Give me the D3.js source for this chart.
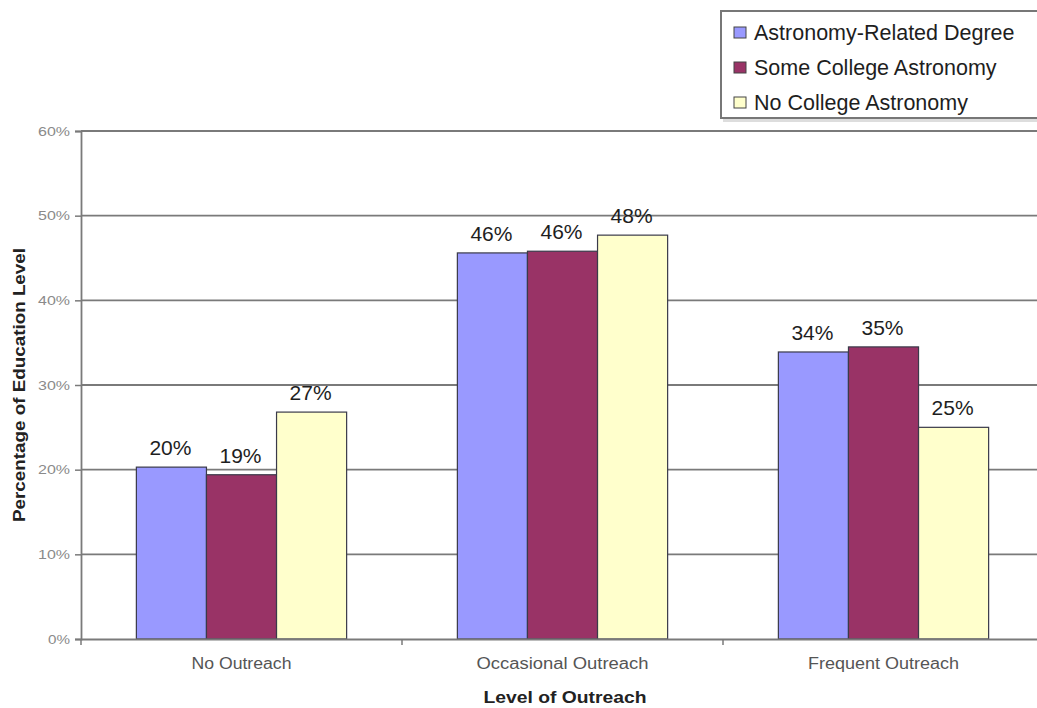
<!DOCTYPE html>
<html>
<head>
<meta charset="utf-8">
<script src="https://cdn.jsdelivr.net/npm/d3@7"></script>
<style>
  body { margin: 0; background: #fff; }
  svg { display: block; font-family: "Liberation Sans", Arial, sans-serif; }
</style>
</head>
<body>
<div id="chart"></div>
<script>
// data
const categories = ["No Outreach", "Occasional Outreach", "Frequent Outreach"];
const categoryLabelWidths = [100, 172, 151];
const seriesNames = ["Astronomy-Related Degree", "Some College Astronomy", "No College Astronomy"];
const seriesColors = ["#9999ff", "#993366", "#ffffcc"];
const astronomyDegree = [20.3, 45.6, 33.9];
const someCollege = [19.4, 45.8, 34.5];
const noCollege = [26.8, 47.7, 25.0];
const valueLabels = [["20%", "46%", "34%"], ["19%", "46%", "35%"], ["27%", "48%", "25%"]];
const yTicks = [0, 10, 20, 30, 40, 50, 60];

const series = [astronomyDegree, someCollege, noCollege];

const width = 1037, height = 708;
const margin = { left: 81, right: -7, top: 131, bottom: 69 };

const svg = d3.select("#chart").append("svg")
    .attr("width", width)
    .attr("height", height);

const x = d3.scaleBand()
    .domain(categories)
    .range([margin.left, width - margin.right])
    .paddingInner(0)
    .paddingOuter(0);

// inner scale: bars ~70px wide inside a ~321px band
const x1 = d3.scaleBand()
    .domain(d3.range(series.length))
    .range([0, x.bandwidth()])
    .paddingOuter(0.79)
    .paddingInner(0);

const y = d3.scaleLinear()
    .domain([0, 60])
    .range([height - margin.bottom, margin.top]);

// gridlines
svg.append("g")
    .selectAll("line")
    .data(yTicks.filter(t => t > 0))
    .join("line")
    .attr("x1", margin.left)
    .attr("x2", width)
    .attr("y1", d => y(d))
    .attr("y2", d => y(d))
    .attr("stroke", "#7a7a7a")
    .attr("stroke-width", 1.8);

// bars
const groups = svg.append("g")
    .selectAll("g")
    .data(series)
    .join("g")
    .attr("fill", (d, i) => seriesColors[i]);

groups.selectAll("rect")
    .data((d, i) => d.map((v, j) => ({ v, j, i })))
    .join("rect")
    .attr("x", d => x(categories[d.j]) + x1(d.i))
    .attr("y", d => y(d.v))
    .attr("width", x1.bandwidth())
    .attr("height", d => y(0) - y(d.v))
    .attr("stroke", "#3a3a4a")
    .attr("stroke-width", 1.2);

groups.selectAll("text")
    .data((d, i) => d.map((v, j) => ({ v, j, i })))
    .join("text")
    .attr("x", d => x(categories[d.j]) + x1(d.i) + x1.bandwidth() / 2 - 1)
    .attr("y", d => y(d.v) - 12)
    .attr("text-anchor", "middle")
    .attr("fill", "#1e1e1e")
    .attr("font-size", 21)
    .text(d => valueLabels[d.i][d.j]);

// y axis
const yAxis = svg.append("g")
    .attr("transform", `translate(${margin.left},0)`)
    .call(d3.axisLeft(y).tickValues(yTicks).tickSize(6).tickFormat(d => d + "%"));
yAxis.select(".domain").attr("stroke", "#7a7a7a").attr("stroke-width", 1.8);
yAxis.selectAll(".tick line").attr("stroke", "#7a7a7a").attr("stroke-width", 1.5);
yAxis.selectAll(".tick text")
    .attr("fill", "#8a8a8a")
    .attr("font-size", 13)
    .attr("font-family", "Liberation Sans, Arial, sans-serif")
    .attr("x", -11)
    .attr("textLength", d => d === 0 ? 22 : 32)
    .attr("lengthAdjust", "spacingAndGlyphs");

// x axis
const xAxis = svg.append("g")
    .attr("transform", `translate(0,${y(0)})`)
    .call(d3.axisBottom(x).tickSize(0).tickPadding(20));
xAxis.select(".domain").attr("stroke", "#7a7a7a").attr("stroke-width", 1.8);
xAxis.selectAll(".tick text")
    .attr("fill", "#555")
    .attr("font-size", 16)
    .attr("dy", "0.6em")
    .attr("font-family", "Liberation Sans, Arial, sans-serif")
    .attr("textLength", (d, i) => categoryLabelWidths[i])
    .attr("lengthAdjust", "spacingAndGlyphs");

// category separator ticks
svg.append("g")
    .selectAll("line")
    .data(categories)
    .join("line")
    .attr("x1", d => x(d))
    .attr("x2", d => x(d))
    .attr("y1", y(0))
    .attr("y2", y(0) + 6)
    .attr("stroke", "#7a7a7a")
    .attr("stroke-width", 1.5);

// axis titles
svg.append("text")
    .attr("transform", `translate(25,${(y(0) + y(60)) / 2}) rotate(-90)`)
    .attr("text-anchor", "middle")
    .attr("font-size", 16)
    .attr("font-weight", "bold")
    .attr("fill", "#222")
    .attr("textLength", 274)
    .attr("lengthAdjust", "spacingAndGlyphs")
    .text("Percentage of Education Level");

svg.append("text")
    .attr("x", 565)
    .attr("y", 703)
    .attr("text-anchor", "middle")
    .attr("font-size", 17)
    .attr("font-weight", "bold")
    .attr("fill", "#222")
    .attr("textLength", 163)
    .attr("lengthAdjust", "spacingAndGlyphs")
    .text("Level of Outreach");

// legend
const legend = svg.append("g").attr("transform", "translate(720,10)");
legend.append("rect")
    .attr("x", 3).attr("y", 3)
    .attr("width", 330).attr("height", 109)
    .attr("fill", "#ddd");
legend.append("rect")
    .attr("x", 1).attr("y", 1)
    .attr("width", 330).attr("height", 107)
    .attr("fill", "#fff")
    .attr("stroke", "#777")
    .attr("stroke-width", 2);

const items = legend.selectAll("g.item")
    .data(seriesNames)
    .join("g")
    .attr("class", "item")
    .attr("transform", (d, i) => `translate(14,${21 + i * 35})`);

items.append("rect")
    .attr("x", 0).attr("y", -4)
    .attr("width", 12).attr("height", 11)
    .attr("fill", (d, i) => seriesColors[i])
    .attr("stroke", "#444")
    .attr("stroke-width", 1);

items.append("text")
    .attr("x", 20)
    .attr("y", 9)
    .attr("font-size", 21.5)
    .attr("fill", "#1e1e1e")
    .text(d => d);
</script>
</body>
</html>
